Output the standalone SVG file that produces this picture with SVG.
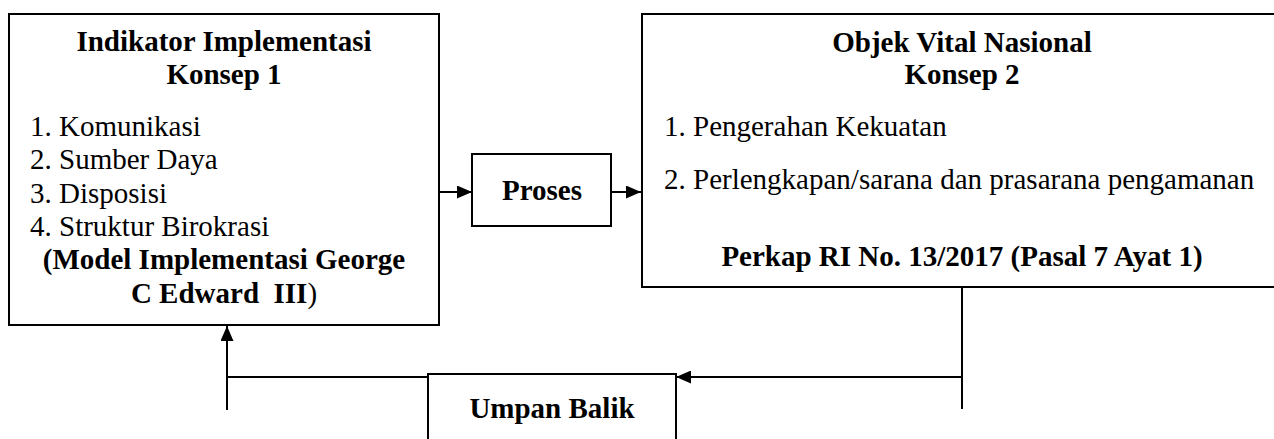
<svg xmlns="http://www.w3.org/2000/svg" width="1274" height="439" viewBox="0 0 1274 439">
<style>
.box{fill:#fff;stroke:#000;stroke-width:2}
.ln{fill:none;stroke:#000;stroke-width:2}
.b{font-family:"Liberation Serif","Times New Roman",serif;font-weight:bold;font-size:29px;fill:#000}
.r{font-family:"Liberation Serif","Times New Roman",serif;font-size:29px;fill:#000}
.c{text-anchor:middle}
</style>
<defs>
<marker id="arr" markerUnits="userSpaceOnUse" markerWidth="15" markerHeight="13" refX="15" refY="6.5" orient="auto">
<path d="M0,0 L15,6.5 L0,13 z" fill="#000"/>
</marker>
</defs>
<rect width="1274" height="439" fill="#fff"/>
<g id="connectors">
<path class="ln" d="M439,192 H472" marker-end="url(#arr)"/>
<path class="ln" d="M611,192 H641" marker-end="url(#arr)"/>
<path class="ln" d="M962,287 V409"/>
<path class="ln" d="M962,377 H676" marker-end="url(#arr)"/>
<path class="ln" d="M428,377 H227"/>
<path class="ln" d="M227,410 V326" marker-end="url(#arr)"/>
</g>
<g id="konsep1">
<rect class="box" x="9" y="14" width="430" height="311"/>
<text class="b c" x="224" y="51">Indikator Implementasi</text>
<text class="b c" x="224" y="84">Konsep 1</text>
<text class="r" x="30" y="136">1. Komunikasi</text>
<text class="r" x="30" y="169">2. Sumber Daya</text>
<text class="r" x="30" y="203">3. Disposisi</text>
<text class="r" x="30" y="236">4. Struktur Birokrasi</text>
<text class="b c" x="224" y="269">(Model Implementasi George</text>
<text class="b c" x="224" y="303" xml:space="preserve">C Edward  III<tspan font-weight="normal">)</tspan></text>
</g>
<g id="proses">
<rect class="box" x="472" y="154" width="139" height="72"/>
<text class="b c" x="542" y="200">Proses</text>
</g>
<g id="konsep2">
<path class="box" d="M1276,14 H642 V287 H1276"/>
<text class="b c" x="962" y="52">Objek Vital Nasional</text>
<text class="b c" x="962" y="84">Konsep 2</text>
<text class="r" x="664" y="136">1. Pengerahan Kekuatan</text>
<text class="r" x="664" y="189">2. Perlengkapan/sarana dan prasarana pengamanan</text>
<text class="b c" x="962" y="266">Perkap RI No. 13/2017 (Pasal 7 Ayat 1)</text>
</g>
<g id="umpan-balik">
<path class="box" d="M428,441 V374 H676 V441"/>
<text class="b c" x="552" y="418">Umpan Balik</text>
</g>
</svg>
